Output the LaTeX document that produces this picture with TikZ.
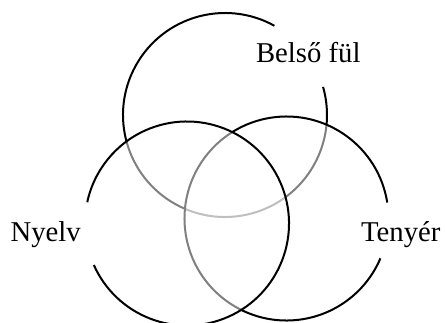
\documentclass[tikz,border=0pt]{standalone}
\usepackage{fontspec}
\setmainfont{Liberation Serif}
\begin{document}
\begin{tikzpicture}[x=1bp,y=1bp,
  ring/.style={line width=2bp, draw=black},
  veil/.style={fill=white, fill opacity=0.5},
  lbl/.style={anchor=base, inner sep=0pt, font=\fontsize{28.7bp}{34bp}\selectfont}]
\useasboundingbox (0,0) rectangle (445,322);
\coordinate (ctop) at (225,207);
\coordinate (cright) at (286.5,103.5);
\coordinate (cleft) at (187,98.5);
% top circle
\draw[ring] ([shift={(61:102)}]ctop) arc[start angle=61, end angle=376, radius=102];
% right circle
\fill[veil] (cright) circle (102);
\draw[ring] ([shift={(9:102)}]cright) arc[start angle=9, end angle=337, radius=102];
% left circle
\fill[veil] (cleft) circle (102);
\draw[ring] ([shift={(204:102)}]cleft) arc[start angle=204, end angle=528, radius=102];
% labels
\node[lbl] (belso) at (308.3,259.7) {Belső fül};
\node[lbl] (nyelv) at (45.7,81) {Nyelv};
\node[lbl] (tenyer) at (400.8,81) {Tenyér};
\end{tikzpicture}
\end{document}
